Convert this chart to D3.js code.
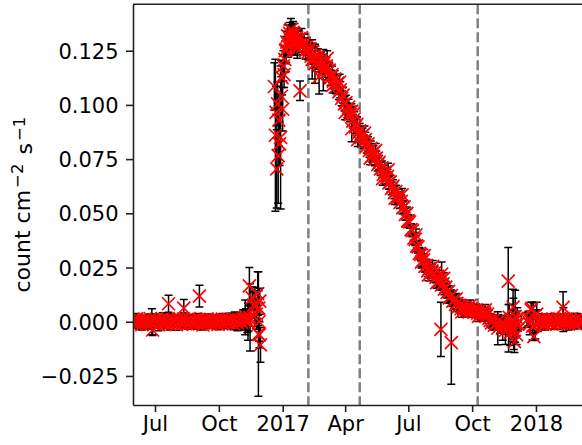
<!DOCTYPE html>
<html>
<head>
<meta charset="utf-8">
<script src="https://cdn.jsdelivr.net/npm/d3@7"></script>
<style>
  body { margin: 0; background: #fff; }
  svg { display: block; }
  text { font-family: "DejaVu Sans", sans-serif; }
</style>
</head>
<body>
<svg id="chart" width="582" height="445"></svg>
<script>
// Light-curve rows: [MJD, rate (1e-3 count cm^-2 s^-1), 1-sigma error (same units)]
const quiet2016 = [
  [57537, -0.3, 2.3],
  [57539, 0.4, 2.3], [57541, -0.9, 2.1], [57543, 1.3, 2.5], [57545, 0.2, 2.2], [57547, -0.7, 2.7],
  [57549, 0.8, 2.0], [57551, -1.4, 2.4], [57553, 0.5, 2.3], [57555, 1.1, 1.9], [57557, -0.3, 2.6],
  [57559, -1.2, 2.2], [57561, 0.7, 2.4], [57563, 1.5, 2.1], [57565, -0.5, 2.8], [57567, 0.1, 2.3],
  [57569, -1.0, 2.0], [57571, 1.0, 2.5], [57573, 0.4, 2.2], [57575, -1.5, 2.6], [57577, 0.7, 2.1],
  [57579, -0.2, 2.3], [57581, 1.2, 2.9], [57583, -0.8, 2.2], [57585, 0.3, 2.4], [57587, -0.6, 2.0],
  [57589, 1.4, 2.3], [57591, -1.1, 2.7], [57593, 0.1, 2.1], [57595, 0.9, 2.5], [57597, -0.4, 2.3],
  [57599, 0.6, 2.2], [57601, -1.3, 2.6], [57603, 1.0, 2.0], [57605, -0.1, 2.4], [57607, 0.7, 2.3],
  [57609, -0.7, 2.1], [57611, 1.2, 2.8], [57613, -0.4, 2.2], [57615, 0.2, 2.5], [57617, -1.0, 2.3],
  [57619, 1.4, 1.9], [57621, -0.6, 2.4], [57623, 0.4, 2.6], [57625, -1.2, 2.2], [57627, 0.8, 2.3],
  [57629, 0.1, 2.1], [57631, -0.9, 2.5], [57633, 1.1, 2.7], [57635, -0.1, 2.2], [57637, 0.5, 2.4],
  [57639, -1.5, 2.3], [57641, 0.7, 2.0], [57643, -0.3, 2.6], [57645, 1.3, 2.3], [57647, -0.7, 2.2],
  [57649, 0.4, 2.5], [57651, -1.0, 2.1], [57653, 0.9, 2.4], [57655, 0.0, 2.3], [57657, -0.5, 2.7],
  [57659, 1.0, 2.2], [57661, -1.2, 2.5], [57663, 0.6, 2.3], [57665, -0.2, 2.1], [57667, 1.2, 2.6],
  [57669, -0.8, 2.4], [57671, 0.3, 2.8], [57673, 0.7, 2.3], [57675, -0.4, 2.5], [57677, 1.0, 2.9],
  [57679, -0.1, 2.6], [57681, 0.7, 3.1], [57683, -1.0, 2.7], [57685, 1.2, 3.3], [57687, 0.2, 3.0],
  [57689, -0.6, 3.5], [57691, 0.8, 3.2], [57693, 0.4, 3.8], [57695, -0.3, 3.4], [57697, 1.4, 4.1],
  [57699, 0.6, 4.3], [57701, 1.2, 4.8], [57703, 0.3, 5.3], [57705, 1.5, 5.8],
  // isolated high / low days
  [57565.5, 0.0, 6.0], [57566.5, -3.8, 2.5], [57589.5, 8.3, 3.9], [57611.5, 6.3, 4.0], [57634, 11.8, 5.0],
  // sparse, noisy late-November coverage
  [57700, 2.0, 8.0], [57704, 0.0, 8.5], [57706, 16.5, 8.5], [57707, 2.0, 15.5], [57710, 11.0, 5.0],
  [57712, 7.7, 6.0], [57714, 6.9, 9.0], [57716, 3.5, 7.0], [57718, 13.0, 10.0], [57719, -5.7, 28.7],
  [57719.5, 6.3, 8.0], [57720, 0.0, 9.0], [57721, 9.5, 6.0], [57722, -10.7, 8.0], [57720.5, -6.0, 6.0]
];

const flareRise = [
  [57742, 108.5, 11], [57743.5, 86, 35], [57744.5, 96.6, 12], [57745.5, 70.5, 18], [57746.5, 100.5, 10],
  [57747.5, 76.6, 22], [57748.5, 93, 12], [57749.5, 82, 10], [57751, 85, 33], [57752, 104, 9],
  [57753, 112.6, 8], [57754, 98, 10], [57755, 118, 7], [57756, 114, 6], [57757, 121, 6],
  [57758, 125, 6], [57759, 125.6, 6], [57760, 129, 5], [57761, 131.8, 5], [57762, 127, 5],
  [57763, 128, 5], [57764, 133, 5], [57765, 130, 5], [57766, 134.8, 5], [57767, 132, 5],
  [57768, 128, 5], [57769, 133.5, 5], [57770, 130, 4.5], [57771, 132.5, 5], [57772, 127.5, 4.5],
  [57773, 129, 5], [57774, 131, 4.5], [57775, 126, 4.5], [57776, 129.5, 4.5], [57779, 106.5, 4.5]
];

const flareDecay = [
  [57777, 130.5, 4.0], [57779, 128, 3.8], [57781, 131, 4.2], [57783, 127, 3.9], [57785, 128.5, 4.1],
  [57787, 125, 3.8], [57789, 127, 4.0], [57791, 124.5, 3.7], [57793, 126, 4.1], [57795, 122.5, 3.8],
  [57797, 124.5, 3.9], [57799, 121, 3.7], [57801, 123, 4.0], [57803, 120, 3.6], [57805, 122, 3.9],
  [57807, 119, 3.7], [57809, 120.5, 3.8], [57811, 117.5, 3.6], [57813, 119.5, 3.9], [57815, 116.5, 3.7],
  [57817, 118, 3.8], [57819, 115, 3.5], [57821, 116, 3.7], [57823, 112.5, 3.6], [57825, 114, 3.8],
  [57827, 111, 3.5], [57829, 112, 3.7], [57831, 108.5, 3.4], [57833, 110, 3.6], [57835, 106, 3.5],
  [57837, 107, 3.7], [57839, 103, 3.4], [57841, 104.5, 3.6], [57843, 100.5, 3.3], [57845, 101, 3.5],
  [57847, 97.5, 3.4], [57849, 99, 3.6], [57851, 95.5, 3.3], [57853, 97, 3.5], [57855, 92.5, 3.2],
  [57857, 93.5, 3.4], [57859, 90, 3.3], [57861, 91, 3.5], [57863, 87, 3.2], [57865, 88, 3.4],
  [57867, 85, 3.2], [57869, 86, 3.3], [57871, 83, 3.1], [57873, 84, 3.4], [57875, 81, 3.2],
  [57877, 82, 3.3], [57879, 79, 3.1], [57881, 80, 3.3], [57883, 76.5, 3.0], [57885, 78, 3.2],
  [57887, 75, 3.1], [57889, 75.5, 3.3], [57891, 72.5, 3.0], [57893, 73.5, 3.2], [57895, 70.5, 3.0],
  [57897, 71, 3.1], [57899, 68, 2.9], [57901, 69, 3.1], [57903, 66, 3.0], [57905, 67, 3.2],
  [57907, 64, 2.9], [57909, 64.5, 3.1], [57911, 61.5, 2.9], [57913, 62.5, 3.0], [57915, 59.5, 2.8],
  [57917, 60, 3.0], [57919, 57, 2.9], [57921, 58, 3.1], [57923, 55, 2.8], [57925, 55.5, 3.0],
  [57927, 52.5, 2.8], [57929, 53, 2.9], [57931, 49.5, 2.7], [57933, 50, 2.9], [57935, 46.5, 2.8],
  [57937, 46, 2.9], [57939, 42.5, 2.7], [57941, 42, 2.8], [57943, 38.5, 2.7], [57945, 38, 2.8],
  [57947, 35, 2.6], [57949, 34.5, 2.8], [57951, 31.5, 2.7], [57953, 31, 2.8], [57955, 28, 2.6],
  [57957, 28.5, 2.7], [57959, 25.5, 2.6], [57961, 26, 2.8], [57963, 23.5, 2.6], [57965, 24.5, 2.7],
  [57967, 22.5, 2.6], [57969, 23.5, 2.8], [57971, 21.5, 2.6], [57973, 22.5, 2.7], [57975, 20.5, 2.5],
  [57977, 21, 2.7], [57979, 18.5, 2.6], [57981, 19.5, 2.7], [57983, 17, 2.5], [57985, 17.5, 2.6],
  [57987, 15, 2.5], [57989, 16, 2.7], [57991, 13.5, 2.5], [57993, 14, 2.6], [57995, 11.5, 2.4],
  [57997, 12, 2.6], [57999, 9.5, 2.5], [58001, 10, 2.6], [58003, 8, 2.4], [58005, 8.5, 2.5],
  [58007, 7, 2.4], [58009, 7.5, 2.6], [58011, 6, 2.4], [58013, 7, 2.5], [58015, 5.5, 2.3],
  [58017, 6.5, 2.5], [58019, 5, 2.4], [58021, 6, 2.5], [58023, 4.5, 2.3], [58025, 6, 2.5],
  [58027, 5, 2.4], [58029, 5.5, 2.5], [58031, 4.5, 2.3], [58033, 5.5, 2.4], [58035, 4, 2.3],
  [58037, 5, 2.5], [58039, 3.5, 2.3], [58041, 4.5, 2.4], [58043, 3, 2.3], [58045, 4, 2.5],
  [58047, 2.5, 2.3], [58049, 3.5, 2.4], [58051, 1.5, 2.3], [58053, 0.5, 2.5], [58055, -0.5, 2.4],
  [58057, 0.5, 2.6], [58059, -1.5, 2.4], [58061, -1.0, 2.6],
  // scattered days around the decay trend
  [57818, 121.5, 3.5], [57826, 109, 3.5], [57836, 110.5, 3.6], [57844, 96.5, 3.3], [57856, 96, 3.4],
  [57862, 84, 3.2], [57872, 87, 3.3], [57880, 75.5, 3.1], [57888, 79, 3.2], [57898, 66, 3.0],
  [57906, 70, 3.1], [57916, 57, 2.9], [57926, 58.5, 3.0], [57934, 46.5, 2.8], [57946, 40, 2.8],
  [57954, 27.5, 2.7], [57958, 30.5, 2.8], [57964, 21.5, 2.6], [57970, 25.5, 2.7], [57976, 18, 2.6],
  [57986, 20, 2.6], [57994, 11, 2.5], [58004, 10.5, 2.5], [58012, 4.5, 2.4], [58024, 7.5, 2.5],
  [58036, 2.5, 2.4], [58046, 5.5, 2.4],
  // days with poorer exposure
  [57796.5, 121, 9], [57800.5, 119, 9], [57806.5, 113, 8], [57812.5, 116, 9.5], [57853.5, 89, 6],
  [57982, -3.5, 12.5], [57983, 22, 5.5], [57997, -9.6, 19.2]
];

const quiet2017 = [
  [58063, -0.5, 2.8], [58064, -3.0, 7.6], [58065, 0.5, 2.7], [58067, -1.5, 3.8], [58069, -0.8, 2.9],
  [58071, -3.0, 5.5], [58073, -1.2, 3.1], [58075, -4.0, 6.5], [58077, -2.0, 3.8], [58079, 18.7, 15.5],
  [58079.5, -3.0, 11.0], [58080.5, 2.0, 6.0], [58082, -5.0, 6.0], [58083, -0.5, 3.3], [58085, -2.5, 5.0],
  [58086, 6.7, 8.3], [58086.5, 0.8, 10.0], [58087, -3.8, 9.0], [58088, -9.2, 5.0], [58089, 2.5, 12.0],
  [58090, -1.0, 6.0], [58091, -6.0, 4.5], [58092, 1.5, 5.0], [58093, -1.0, 3.3],
  [58106, 0.8, 3.3], [58108, 1.5, 3.3], [58110, -1.0, 5.0], [58112, 5.5, 3.5], [58113, 6.2, 2.8],
  [58114, -2.0, 6.4], [58115, 2.3, 6.5], [58116, -6.9, 1.8], [58118, -1.5, 6.5], [58120, 3.5, 5.5],
  [58122, 0.5, 5.0], [58124, -0.5, 2.8], [58126, 1.2, 2.5], [58128, -0.8, 2.7], [58130, 0.9, 2.3],
  [58132, -1.2, 2.6], [58134, 0.4, 2.4], [58136, 1.3, 2.3], [58138, -0.6, 2.7], [58140, 0.8, 2.5],
  [58142, -1.0, 2.3], [58144, 1.1, 2.6], [58146, 0.2, 2.4], [58148, -0.9, 2.7], [58150, 1.4, 2.3],
  [58152, 0.3, 2.5], [58154, -0.7, 2.8], [58156, 1.0, 2.4], [58158, 6.6, 7.2], [58158.5, 1.0, 5.5],
  [58160, -0.4, 2.6], [58162, 1.2, 2.3], [58164, 0.1, 2.5], [58166, -1.1, 2.7], [58168, 0.9, 2.4],
  [58170, 1.5, 2.3], [58172, -0.5, 2.6], [58174, 0.6, 2.5], [58176, -0.9, 2.3], [58178, 1.1, 2.7],
  [58180, 0.3, 2.4], [58182, -0.6, 2.5], [58184, 1.0, 2.3], [58186, 0.2, 2.6]
];

// Epochs marked with dashed lines (MJD)
const epochMjd = [57791, 57865, 58035];

// Axis extents and ticks
const xDomainMjd = [57538.3, 58185.3];
const yDomain = [-0.0384, 0.1464];
const xTickDates = ["2016-07-01", "2016-10-01", "2017-01-01", "2017-04-01",
                    "2017-07-01", "2017-10-01", "2018-01-01"];
const yTickValues = [-0.025, 0.0, 0.025, 0.05, 0.075, 0.1, 0.125];
const rateScale = 1e-3;

const toDate = mjd => new Date(Date.UTC(1858, 10, 17) + mjd * 864e5);

const points = [...quiet2016, ...flareRise, ...flareDecay, ...quiet2017]
  .map(([mjd, r, e]) => ({ t: toDate(mjd), v: r * rateScale, e: e * rateScale }));

const plot = { left: 133, top: 4.3, right: 582, bottom: 405 };
const FONT = 21;
const AXIS_COLOR = "#222";

const svg = d3.select("#chart");

const x = d3.scaleUtc()
  .domain(xDomainMjd.map(toDate))
  .range([plot.left, plot.right]);
const y = d3.scaleLinear()
  .domain(yDomain)
  .range([plot.bottom, plot.top]);

svg.append("defs").append("clipPath").attr("id", "plot-clip")
  .append("rect")
  .attr("x", plot.left).attr("y", plot.top)
  .attr("width", plot.right - plot.left + 20)
  .attr("height", plot.bottom - plot.top);

const area = svg.append("g").attr("clip-path", "url(#plot-clip)");

// dashed epoch markers
area.append("g").selectAll("line")
  .data(epochMjd)
  .join("line")
  .attr("x1", d => x(toDate(d))).attr("x2", d => x(toDate(d)))
  .attr("y1", plot.top).attr("y2", plot.bottom)
  .attr("stroke", "#808080")
  .attr("stroke-width", 2.5)
  .attr("stroke-dasharray", "10,4");

// error bars with caps
const CAP = 4;
area.append("g")
  .attr("stroke", "#000")
  .attr("stroke-width", 1.5)
  .attr("fill", "none")
  .selectAll("path")
  .data(points)
  .join("path")
  .attr("d", d => {
    const cx = x(d.t), y0 = y(d.v - d.e), y1 = y(d.v + d.e);
    return `M${cx},${y0}V${y1}M${cx - CAP},${y0}H${cx + CAP}M${cx - CAP},${y1}H${cx + CAP}`;
  });

// red cross markers
const M = 6.5;
area.append("g")
  .attr("stroke", "#ff0000")
  .attr("stroke-width", 1.7)
  .selectAll("path")
  .data(points)
  .join("path")
  .attr("d", d => {
    const cx = x(d.t), cy = y(d.v);
    return `M${cx - M},${cy - M}L${cx + M},${cy + M}M${cx - M},${cy + M}L${cx + M},${cy - M}`;
  });

// axes
const fmtMonth = d3.utcFormat("%b"), fmtYear = d3.utcFormat("%Y");
const xAxis = d3.axisBottom(x)
  .tickValues(xTickDates.map(s => new Date(s + "T00:00:00Z")))
  .tickFormat(d => d.getUTCMonth() === 0 ? fmtYear(d) : fmtMonth(d))
  .tickSizeInner(7).tickSizeOuter(0).tickPadding(4.5);
const yAxis = d3.axisLeft(y)
  .tickValues(yTickValues)
  .tickFormat(d3.format(".3f"))
  .tickSizeInner(7).tickSizeOuter(0).tickPadding(7.5);

const gx = svg.append("g").attr("transform", `translate(0,${plot.bottom})`).call(xAxis);
const gy = svg.append("g").attr("transform", `translate(${plot.left},0)`).call(yAxis);

[gx, gy].forEach(g => {
  g.selectAll(".domain").attr("stroke", AXIS_COLOR).attr("stroke-width", 1.6);
  g.selectAll(".tick line").attr("stroke", AXIS_COLOR).attr("stroke-width", 1.6);
  g.selectAll(".tick text")
    .attr("fill", "#000")
    .style("font-family", '"DejaVu Sans", sans-serif')
    .style("font-size", FONT + "px");
});
gy.selectAll(".tick text").attr("dy", "0.36em");

// top spine
svg.append("line")
  .attr("x1", plot.left).attr("x2", plot.right)
  .attr("y1", plot.top).attr("y2", plot.top)
  .attr("stroke", AXIS_COLOR).attr("stroke-width", 1.6);

// y-axis title with superscript exponents
const ylab = svg.append("text")
  .attr("transform", `translate(30,${(plot.top + plot.bottom) / 2}) rotate(-90)`)
  .attr("text-anchor", "middle")
  .style("font-size", "22px")
  .attr("fill", "#000");
ylab.append("tspan").text("count cm");
ylab.append("tspan").attr("dy", "-0.45em").attr("dx", "2").style("font-size", "16.5px").text("\u22122");
ylab.append("tspan").attr("dy", "0.45em").attr("dx", "2").text(" s");
ylab.append("tspan").attr("dy", "-0.45em").attr("dx", "2").style("font-size", "16.5px").text("\u22121");
</script>
</body>
</html>
